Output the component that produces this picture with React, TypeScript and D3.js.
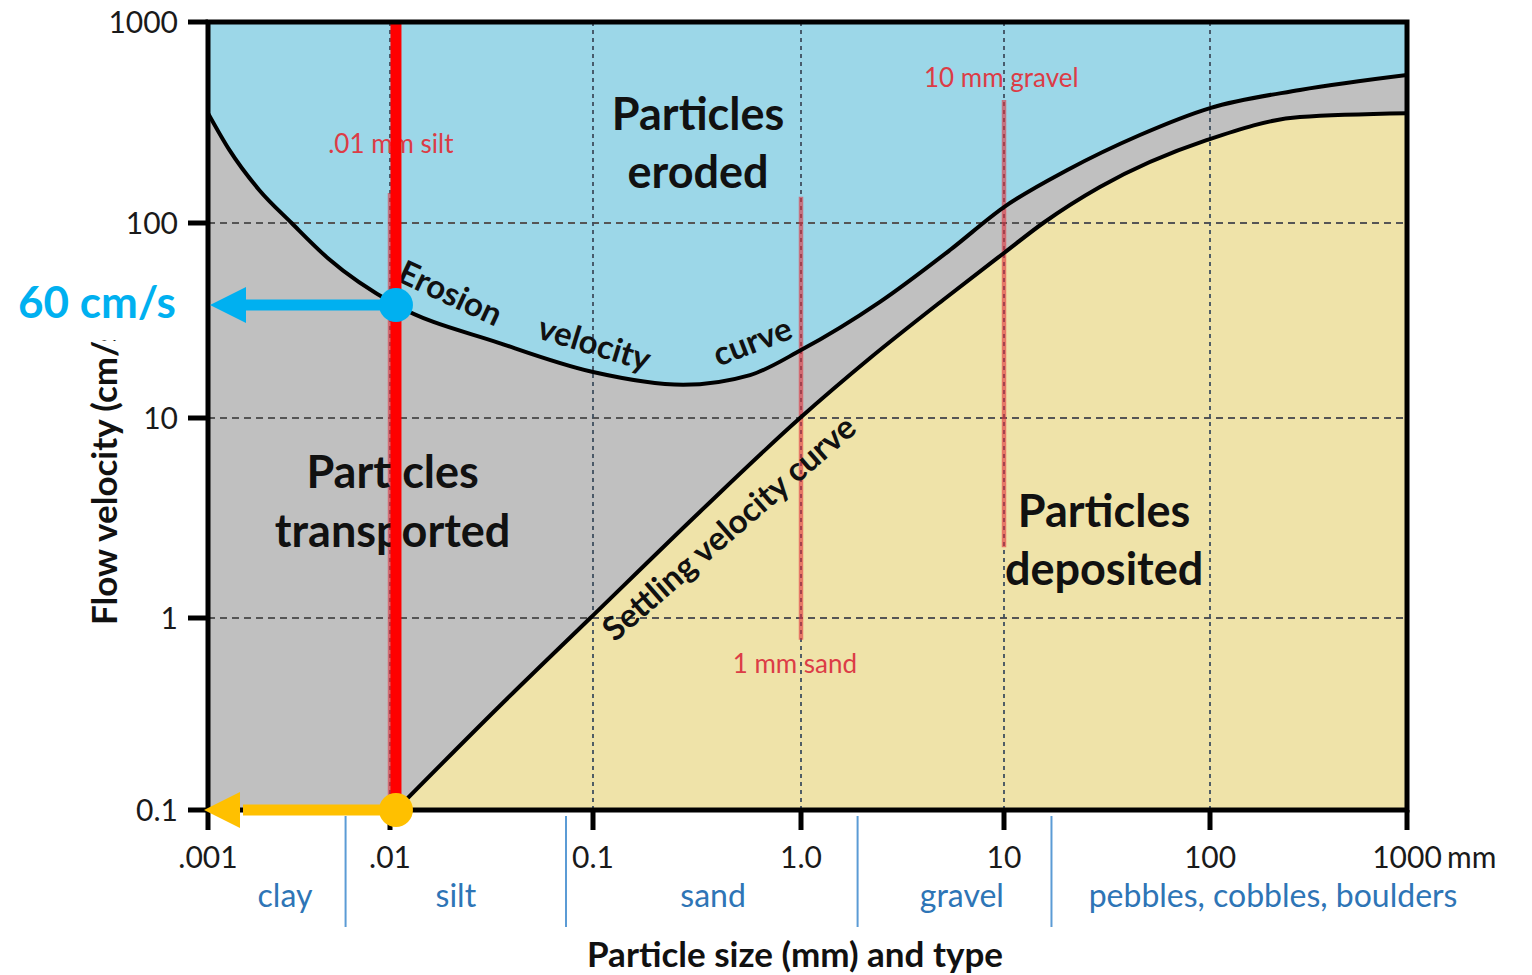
import React from "react";
import * as d3 from "d3";

// ---- axes ----
const sizeTicks = [0.001, 0.01, 0.1, 1, 10, 100, 1000];
const sizeTickLabels = [".001", ".01", "0.1", "1.0", "10", "100", "1000"];
const velocityTicks = [0.1, 1, 10, 100, 1000];
const velocityTickLabels = ["0.1", "1", "10", "100", "1000"];
const gridVelocities = [1, 10, 100];
const gridSizes = [0.01, 0.1, 1, 10, 100];

// ---- curves (particle size mm, flow velocity cm/s) ----
const erosionSize = [0.001, 0.00131, 0.00191, 0.00288, 0.00456, 0.0107, 0.0343, 0.1, 0.271, 0.569, 1, 2.45, 5.42, 10, 20.2, 45.7, 100, 286, 1000];
const erosionVelocity = [352, 231, 146, 100, 66, 38, 24.3, 17.2, 14.8, 16.6, 22.3, 39.4, 72.7, 120, 183, 274, 373, 459, 545];

const settlingSize = [0.0107, 0.0343, 0.097, 0.326, 0.989, 2.19, 5.01, 10, 15.5, 29.2, 97, 286, 1000];
const settlingVelocity = [0.1, 0.344, 1, 3.39, 10, 20.3, 40.3, 70.2, 100, 151, 259, 337, 352];

// ---- particle type bands ----
const categoryNames = ["clay", "silt", "sand", "gravel", "pebbles, cobbles, boulders"];
const categoryCenters = [0.00265, 0.0211, 0.378, 6.2, 209];
const categoryBounds = [0.0057, 0.0736, 1.9, 17];

// ---- reference size markers ----
const markerSizes = [0.01, 1, 10];
const markerTop = [141, 135, 409];
const markerBottom = [0.1, 0.77, 2.26];
const markerLabels = [".01 mm silt", "1 mm sand", "10 mm gravel"];
const markerLabelSize = [0.0101, 0.935, 9.7];
const markerLabelVelocity = [223, 0.517, 475];

// ---- highlighted example ----
const exampleSize = 0.0107;
const exampleErosionVelocity = 38;
const exampleDepositVelocity = 0.1;
const exampleLabel = "60 cm/s";

// ---- region labels ----
const regionLines = ["Particles", "eroded", "Particles", "transported", "Particles", "deposited"];
const regionSize = [0.32, 0.32, 0.0103, 0.0103, 30.6, 30.6];
const regionVelocity = [290, 149, 4.47, 2.26, 2.85, 1.46];

// ---- curve labels ----
const curveLabels = ["Erosion", "velocity", "curve", "Settling velocity curve"];
const curveLabelSize = [0.02, 0.102, 0.58, 0.446];
const curveLabelVelocity = [44.3, 24.5, 25.1, 2.85];
const curveLabelAngle = [25, 17, -21, -41];

const FONT = "Lato, 'Open Sans', sans-serif";

export default function App() {
  const W = 1532, H = 975;
  const x = d3.scaleLog().domain(sizeTicks).range([208, 390, 593, 801, 1004, 1210, 1407]);
  const y = d3.scaleLog().domain(velocityTicks).range([810, 618, 418, 223, 22]);
  const left = x(0.001), right = x(1000), top = y(1000), bottom = y(0.1);

  const erosion: [number, number][] = erosionSize.map((s, i) => [x(s), y(erosionVelocity[i])]);
  const settling: [number, number][] = settlingSize.map((s, i) => [x(s), y(settlingVelocity[i])]);
  const line = d3.line<[number, number]>().curve(d3.curveMonotoneX);
  const area = d3
    .area<[number, number]>()
    .x((d) => d[0])
    .y0(bottom)
    .y1((d) => d[1])
    .curve(d3.curveMonotoneX);

  const ex = x(exampleSize);
  const eyTop = y(exampleErosionVelocity);
  const eyBot = y(exampleDepositVelocity);
  const tipX = left + 2;

  return (
    <svg width={W} height={H} style={{ position: "absolute", left: 0, top: 0, background: "#fff" }} fontFamily={FONT}>
      <defs>
        <clipPath id="plot">
          <rect x={left} y={top} width={right - left} height={bottom - top} />
        </clipPath>
      </defs>
      <g clipPath="url(#plot)">
        <rect x={left} y={top} width={right - left} height={bottom - top} fill="#9cd7e8" />
        <path d={area(erosion) || ""} fill="#c0c0c0" />
        <path d={area(settling) || ""} fill="#efe3a9" />
        {gridVelocities.map((v) => (
          <line key={"h" + v} x1={left} x2={right} y1={y(v)} y2={y(v)} stroke="#555" strokeWidth={1.8} strokeDasharray="7,5" />
        ))}
        {gridSizes.map((s) => (
          <line key={"v" + s} x1={x(s)} x2={x(s)} y1={top} y2={bottom} stroke="#3f4f5f" strokeWidth={1.8} strokeDasharray="4,4" />
        ))}
        {markerSizes.map((s, i) => (
          <line key={"m" + s} x1={x(s)} x2={x(s)} y1={y(markerTop[i])} y2={y(markerBottom[i])} stroke="#e0303c" strokeOpacity={0.6} strokeWidth={4.5} />
        ))}
        <path d={line(erosion) || ""} fill="none" stroke="#000" strokeWidth={4} />
        <path d={line(settling) || ""} fill="none" stroke="#000" strokeWidth={4} />
      </g>

      {/* marker labels */}
      {markerLabels.map((t, i) => (
        <text key={t} x={x(markerLabelSize[i])} y={y(markerLabelVelocity[i])} textAnchor="middle" fontSize={26} fill="#dc3c46">
          {t}
        </text>
      ))}

      {/* region labels */}
      {regionLines.map((t, i) => (
        <text key={i} x={x(regionSize[i])} y={y(regionVelocity[i])} textAnchor="middle" fontSize={45} fontWeight="bold" fill="#111">
          {t}
        </text>
      ))}

      {/* curve labels */}
      {curveLabels.map((t, i) => (
        <text
          key={t}
          transform={`translate(${x(curveLabelSize[i])},${y(curveLabelVelocity[i])}) rotate(${curveLabelAngle[i]})`}
          textAnchor="middle"
          dominantBaseline="central"
          fontSize={33}
          fontWeight="bold"
          fill="#111"
        >
          {t}
        </text>
      ))}

      {/* highlighted red line */}
      <line x1={ex} x2={ex} y1={top} y2={eyBot} stroke="#ff0000" strokeWidth={11} />

      {/* axis titles */}
      <text x={795} y={967} textAnchor="middle" fontSize={35} fontWeight="bold" fill="#111">
        Particle size (mm) and type
      </text>
      <text transform="translate(117,625) rotate(-90)" fontSize={35} fontWeight="bold" fill="#111">
        Flow velocity (cm/s)
      </text>
      <rect x={70} y={244} width={64} height={96} fill="#fff" />

      {/* frame + ticks */}
      <rect x={left} y={top} width={right - left} height={bottom - top} fill="none" stroke="#000" strokeWidth={5} />
      {velocityTicks.map((v, i) => (
        <g key={"yt" + v}>
          <line x1={left - 20} x2={left} y1={y(v)} y2={y(v)} stroke="#000" strokeWidth={5} />
          <text x={left - 30} y={y(v)} dy="0.35em" textAnchor="end" fontSize={30} fill="#1a1a1a">
            {velocityTickLabels[i]}
          </text>
        </g>
      ))}
      {sizeTicks.map((s, i) => (
        <g key={"xt" + s}>
          <line x1={x(s)} x2={x(s)} y1={bottom} y2={bottom + 20} stroke="#000" strokeWidth={5} />
          <text x={x(s)} y={868} textAnchor="middle" fontSize={30} fill="#1a1a1a">
            {sizeTickLabels[i]}
          </text>
        </g>
      ))}
      <text x={x(1000) + 40} y={868} fontSize={30} fill="#1a1a1a">
        mm
      </text>

      {/* particle type bands */}
      {categoryBounds.map((b) => (
        <line key={"cb" + b} x1={x(b)} x2={x(b)} y1={bottom + 6} y2={927} stroke="#5b9bd5" strokeWidth={2} />
      ))}
      {categoryNames.map((c, i) => (
        <text key={c} x={x(categoryCenters[i])} y={907} textAnchor="middle" fontSize={32} fill="#2e75b6">
          {c}
        </text>
      ))}

      {/* example arrows */}
      <line x1={ex} x2={tipX + 33} y1={eyTop} y2={eyTop} stroke="#00b0f0" strokeWidth={11} />
      <polygon points={`${tipX},${eyTop} ${tipX + 36},${eyTop - 18} ${tipX + 36},${eyTop + 18}`} fill="#00b0f0" />
      <circle cx={ex} cy={eyTop} r={17} fill="#00b0f0" />
      <text x={18} y={318} fontSize={44} fontWeight="bold" fill="#00b0f0">
        {exampleLabel}
      </text>

      <line x1={ex} x2={tipX + 33} y1={eyBot} y2={eyBot} stroke="#ffc000" strokeWidth={11} />
      <polygon points={`${tipX - 6},${eyBot} ${tipX + 30},${eyBot - 18} ${tipX + 30},${eyBot + 18}`} fill="#ffc000" />
      <circle cx={ex} cy={eyBot} r={17} fill="#ffc000" />
    </svg>
  );
}
